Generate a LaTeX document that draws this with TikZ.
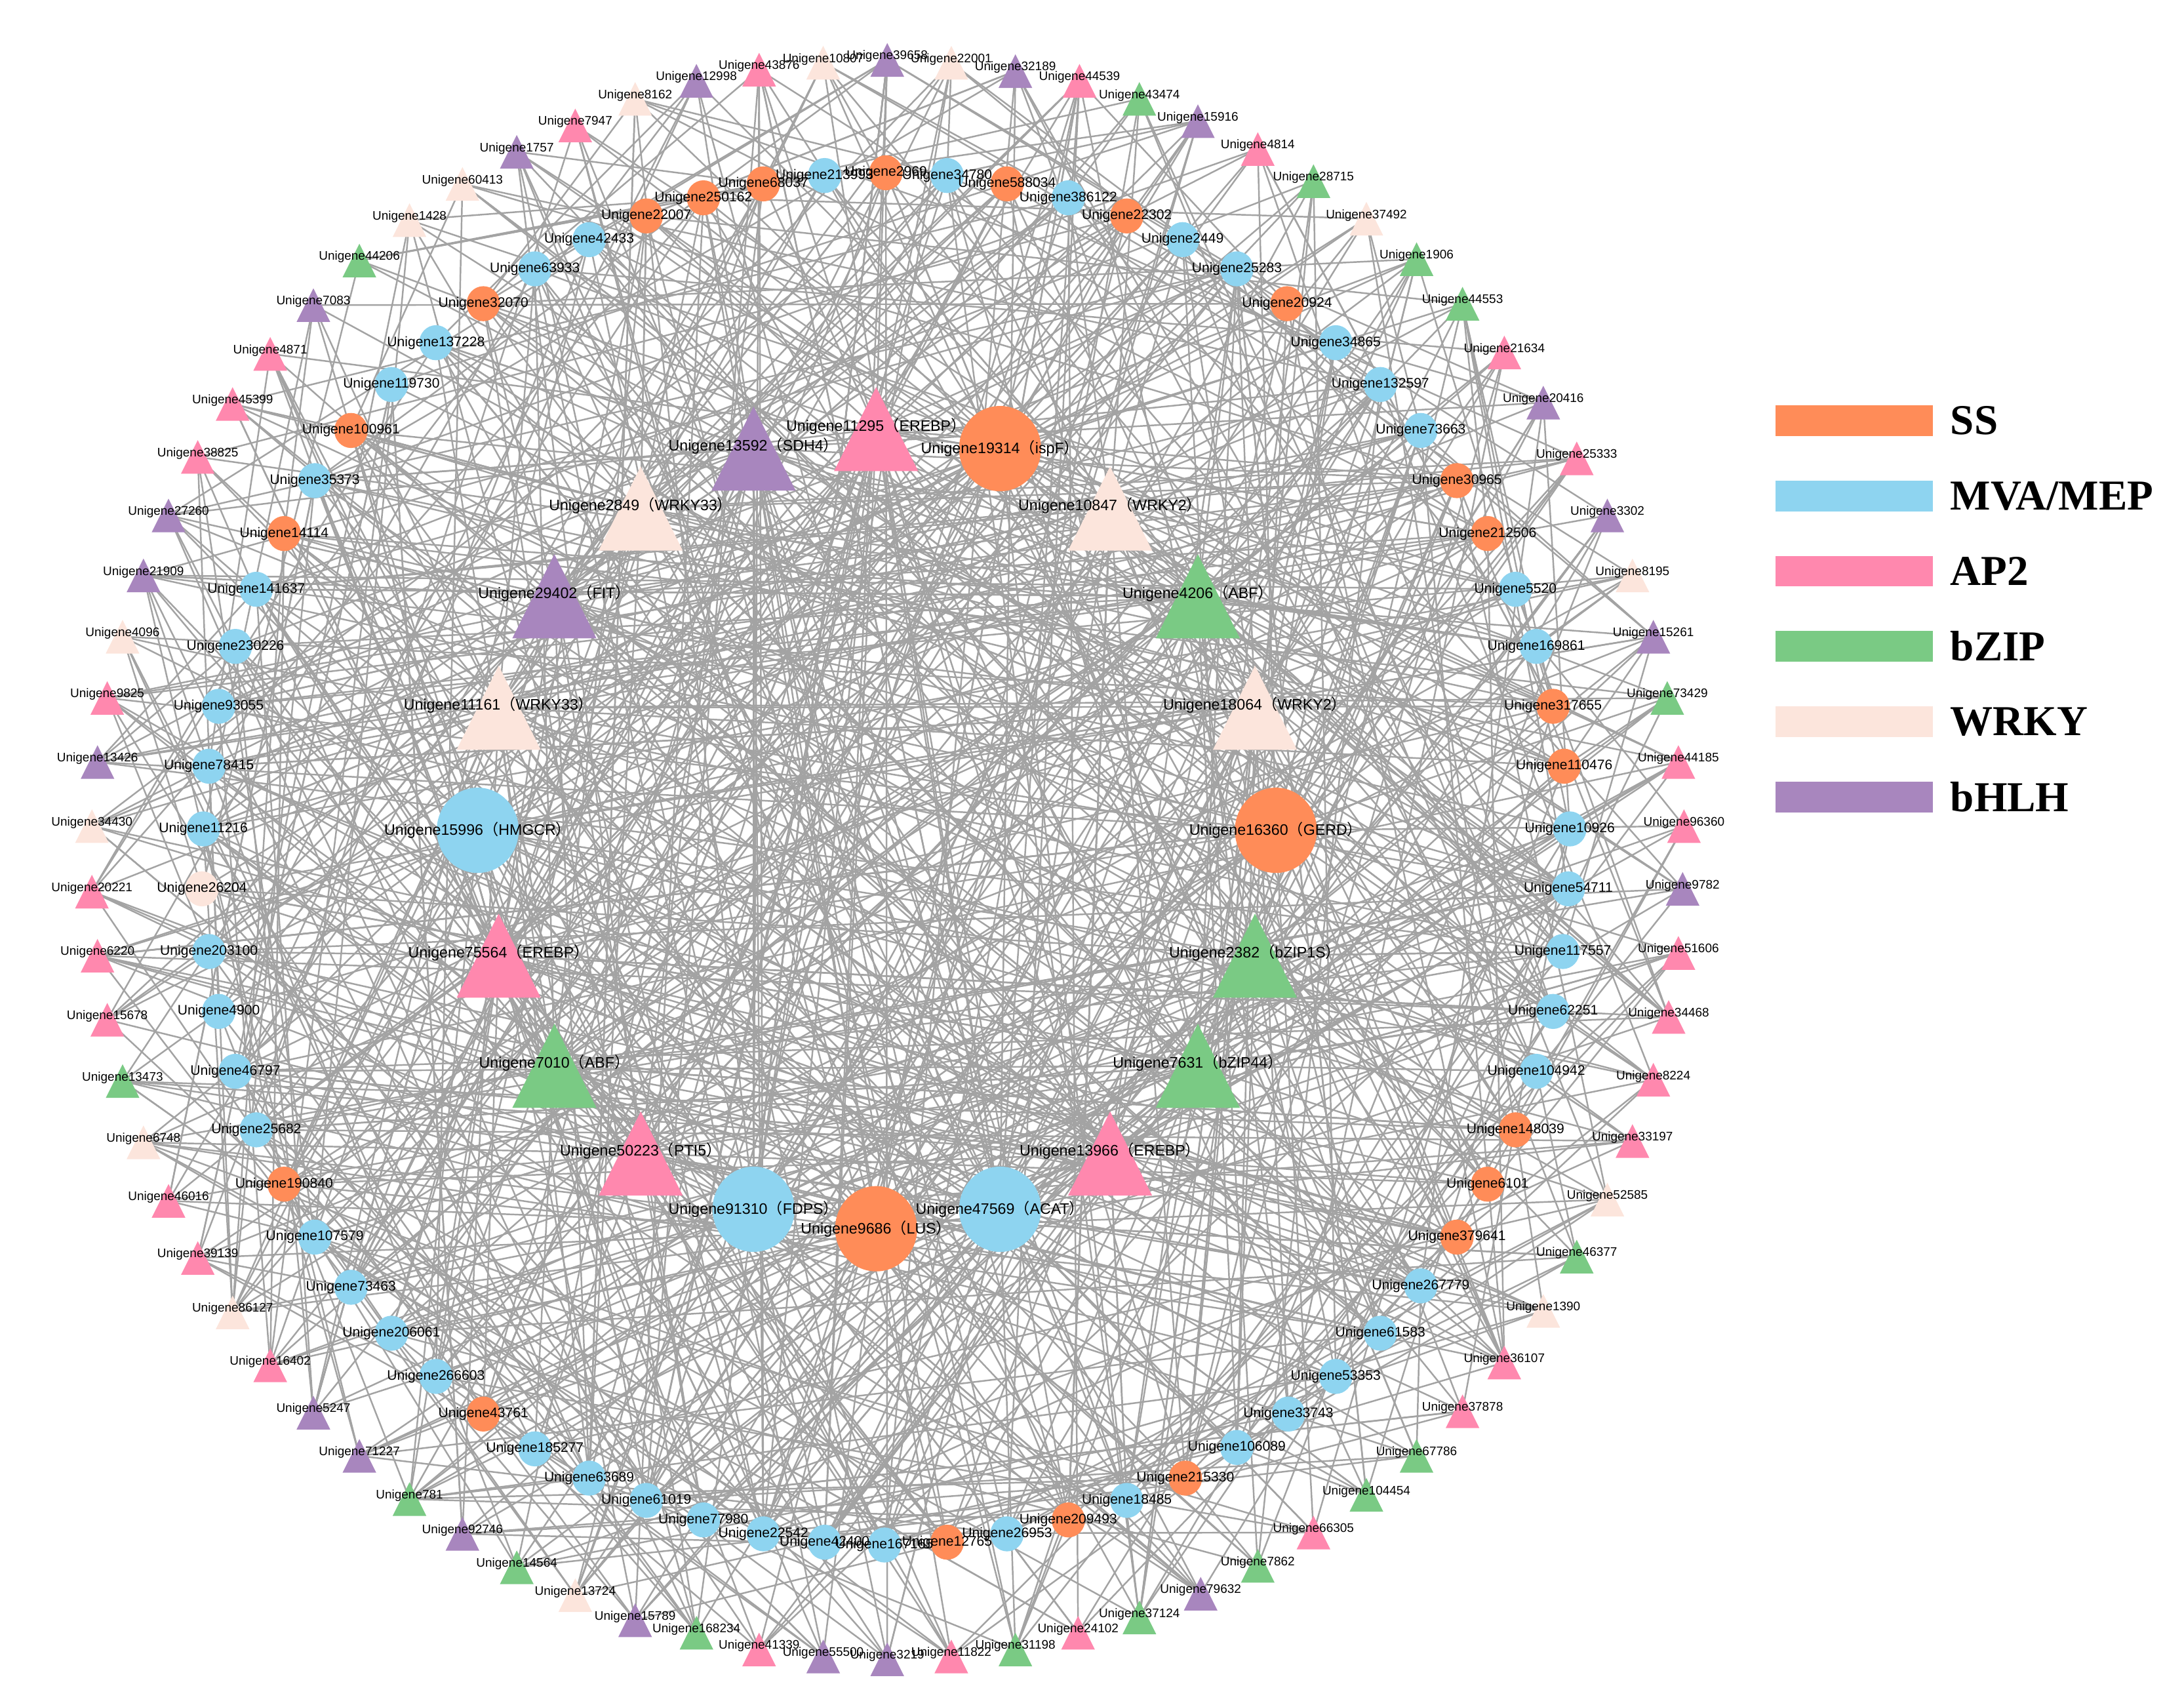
\documentclass[tikz,border=0pt]{standalone}
\usepackage{fontspec}
\setmainfont{Liberation Sans}
\newfontfamily\cjk{Noto Sans CJK SC}
\newfontfamily\legfont{Liberation Serif}
\usetikzlibrary{shapes.geometric}
\definecolor{cP}{RGB}{255,136,174}
\definecolor{cG}{RGB}{122,202,132}
\definecolor{cW}{RGB}{252,229,220}
\definecolor{cB}{RGB}{168,134,190}
\definecolor{cO}{RGB}{255,140,88}
\definecolor{cL}{RGB}{142,212,240}
\definecolor{edgegray}{RGB}{163,163,163}
\pgfdeclarelayer{edges}\pgfdeclarelayer{labels}\pgfsetlayers{edges,main,labels}
\def\outerlist{456/71/cW/Unigene8162,500/58/cB/Unigene12998,545/50/cP/Unigene43876,591/45/cW/Unigene10807,637/43/cB/Unigene39658,683/45/cW/Unigene22001,729/51/cB/Unigene32189,775/58/cP/Unigene44539,818/71/cG/Unigene43474,860/87/cB/Unigene15916,903/107/cP/Unigene4814,943/130/cG/Unigene28715,981/157/cW/Unigene37492,1017/186/cG/Unigene1906,1050/218/cG/Unigene44553,1080/253/cP/Unigene21634,1108/289/cB/Unigene20416,1132/329/cP/Unigene25333,1154/370/cB/Unigene3302,1172/413/cW/Unigene8195,1187/457/cB/Unigene15261,1197/501/cG/Unigene73429,1205/547/cP/Unigene44185,1209/593/cP/Unigene96360,1208/638/cB/Unigene9782,1205/684/cP/Unigene51606,1198/730/cP/Unigene34468,1187/775/cP/Unigene8224,1172/819/cP/Unigene33197,1154/861/cW/Unigene52585,1132/902/cG/Unigene46377,1108/941/cW/Unigene1390,1080/978/cP/Unigene36107,1050/1013/cP/Unigene37878,1017/1045/cG/Unigene67786,981/1073/cG/Unigene104454,943/1100/cP/Unigene66305,903/1124/cG/Unigene7862,862/1144/cB/Unigene79632,818/1161/cG/Unigene37124,774/1172/cP/Unigene24102,729/1184/cG/Unigene31198,683/1189/cP/Unigene11822,637/1191/cB/Unigene3219,591/1189/cB/Unigene55500,545/1184/cP/Unigene41339,500/1172/cG/Unigene168234,456/1163/cB/Unigene15789,413/1145/cW/Unigene13724,371/1125/cG/Unigene14564,332/1101/cB/Unigene92746,294/1076/cG/Unigene781,258/1045/cB/Unigene71227,225/1014/cB/Unigene5247,194/980/cP/Unigene16402,167/942/cW/Unigene86127,142/903/cP/Unigene39139,121/862/cP/Unigene46016,103/820/cW/Unigene6748,88/776/cG/Unigene13473,77/732/cP/Unigene15678,70/686/cP/Unigene6220,66/640/cP/Unigene20221,66/593/cW/Unigene34430,70/547/cB/Unigene13426,77/501/cP/Unigene9825,88/457/cW/Unigene4096,103/413/cB/Unigene21909,121/370/cB/Unigene27260,142/328/cP/Unigene38825,167/290/cP/Unigene45399,194/254/cP/Unigene4871,225/219/cB/Unigene7083,258/187/cG/Unigene44206,294/158/cW/Unigene1428,332/132/cW/Unigene60413,371/109/cB/Unigene1757,413/90/cP/Unigene7947}
\def\circlelist{464/155/cO/Unigene22007,505/142/cO/Unigene250162,548/132/cO/Unigene68037,592/126/cL/Unigene213993,636/124/cO/Unigene2969,680/126/cL/Unigene34780,723/132/cO/Unigene588034,767/142/cL/Unigene386122,809/155/cO/Unigene22302,849/172/cL/Unigene2449,888/193/cL/Unigene25283,924/218/cO/Unigene20924,959/246/cL/Unigene34865,991/276/cL/Unigene132597,1020/309/cL/Unigene73663,1046/345/cO/Unigene30965,1068/383/cO/Unigene212506,1088/423/cL/Unigene5520,1103/464/cL/Unigene169861,1115/507/cO/Unigene317655,1123/550/cO/Unigene110476,1127/595/cL/Unigene10926,1126/638/cL/Unigene54711,1122/683/cL/Unigene117557,1115/726/cL/Unigene62251,1103/769/cL/Unigene104942,1088/811/cO/Unigene148039,1068/850/cO/Unigene6101,1046/888/cO/Unigene379641,1020/923/cL/Unigene267779,991/957/cL/Unigene61583,959/988/cL/Unigene53353,925/1015/cL/Unigene33743,888/1039/cL/Unigene106089,851/1061/cO/Unigene215330,809/1077/cL/Unigene18485,767/1091/cO/Unigene209493,723/1101/cL/Unigene26953,680/1107/cO/Unigene12765,635/1109/cL/Unigene167165,592/1107/cL/Unigene42400,548/1101/cL/Unigene22542,505/1091/cL/Unigene77980,464/1077/cL/Unigene61019,423/1061/cL/Unigene63689,384/1040/cL/Unigene185277,347/1015/cO/Unigene43761,313/988/cL/Unigene266603,281/957/cL/Unigene206061,252/924/cL/Unigene73463,226/888/cL/Unigene107579,204/850/cO/Unigene190840,184/811/cL/Unigene25682,169/769/cL/Unigene46797,157/726/cL/Unigene4900,150/683/cL/Unigene203100,145/638/cW/Unigene26204,146/595/cL/Unigene11216,150/550/cL/Unigene78415,157/507/cL/Unigene93055,169/464/cL/Unigene230226,184/423/cL/Unigene141637,204/383/cO/Unigene14114,226/345/cL/Unigene35373,252/309/cO/Unigene100961,281/276/cL/Unigene119730,313/246/cL/Unigene137228,347/218/cO/Unigene32070,384/193/cL/Unigene63933,423/172/cL/Unigene42433}
\def\bigtrilist{541/322/cB/13592/SDH4,629/308/cP/11295/EREBP,460/365/cW/2849/WRKY33,797/365/cW/10847/WRKY2,398/428/cB/29402/FIT,860/428/cG/4206/ABF,358/508/cW/11161/WRKY33,901/508/cW/18064/WRKY2,358/686/cP/75564/EREBP,901/686/cG/2382/bZIP1S,398/765/cG/7010/ABF,860/765/cG/7631/bZIP44,460/828/cP/50223/PTI5,797/828/cP/13966/EREBP}
\def\bigcirclist{718/322/cO/19314/ispF,343/596/cL/15996/HMGCR,916/596/cO/16360/GERD,541/868/cL/91310/FDPS,629/882/cO/9686/LUS,718/868/cL/47569/ACAT}
\begin{document}
\begin{tikzpicture}[x=0.021244cm, y=-0.021244cm,
  trinode/.style 2 args={rectangle, inner sep=0pt, outer sep=0pt, minimum width=#1, minimum height=#1,
    append after command={\pgfextra{\fill[#2] (\tikzlastnode.north) -- (\tikzlastnode.south east) -- (\tikzlastnode.south west) -- cycle;}}},
  smalltri/.style={trinode={14.6pt}{#1}},
  bigtri/.style={trinode={36.5pt}{#1}},
  smallcirc/.style={ellipse, inner sep=0pt, outer sep=0pt, minimum width=14.5pt, minimum height=15.2pt, fill=#1},
  bigcirc/.style={ellipse, inner sep=0pt, outer sep=0pt, minimum width=35.6pt, minimum height=37pt, fill=#1},
  linkline/.style={draw=edgegray, line width=0.7pt},
  lblouter/.style={font=\fontsize{5.4}{6}\selectfont, inner sep=0pt, text=black},
  lblcirc/.style={font=\fontsize{6}{7}\selectfont, inner sep=0pt, text=black},
  lblbig/.style={font=\fontsize{6.6}{8}\selectfont, inner sep=0pt, text=black},
  legbox/.style={rectangle, inner sep=0pt, minimum width=68.3pt, minimum height=13.3pt, fill=#1},
  legtext/.style={anchor=west, inner sep=0pt, font=\legfont\bfseries\fontsize{18.5}{20}\selectfont}
]
\useasboundingbox (0,0) rectangle (1568,1225);
% nodes
\foreach \x/\y/\c/\l [count=\i] in \outerlist {\node[smalltri=\c] (t\i) at (\x,\y) {};}
\foreach \x/\y/\c/\l [count=\i] in \circlelist {\node[smallcirc=\c] (c\i) at (\x,\y) {};}
\foreach \x/\y/\c/\n/\g [count=\i] in \bigtrilist {\node[bigtri=\c] (bt\i) at (\x,\y) {};}
\foreach \x/\y/\c/\n/\g [count=\i] in \bigcirclist {\node[bigcirc=\c] (bc\i) at (\x,\y) {};}
% labels
\begin{pgfonlayer}{labels}
\foreach \x/\y/\c/\l [count=\i] in \outerlist {\node[lblouter] (lt\i) at ([yshift=1.5pt]t\i.center) {\l};}
\foreach \x/\y/\c/\l [count=\i] in \circlelist {\node[lblcirc] (lc\i) at (c\i.center) {\l};}
\foreach \x/\y/\c/\n/\g [count=\i] in \bigtrilist {\node[lblbig] (lbt\i) at ([yshift=1.2pt]bt\i.center) {Unigene\n{\cjk （}\g{\cjk ）}};}
\foreach \x/\y/\c/\n/\g [count=\i] in \bigcirclist {\node[lblbig] (lbc\i) at (bc\i.center) {Unigene\n{\cjk （}\g{\cjk ）}};}
\end{pgfonlayer}
% legend
\foreach \c/\t [count=\i] in {cO/SS, cL/{MVA/MEP}, cP/AP2, cG/bZIP, cW/WRKY, cB/bHLH}{
  \pgfmathsetmacro{\ly}{302+54*(\i-1)}
  \node[legbox=\c] (lgb\i) at (1331,\ly) {};
  \node[legtext] (lgt\i) at (1400,\ly) {\t};
}
% edges
\pgfmathsetseed{2024}
\begin{pgfonlayer}{edges}
\foreach \i in {1,...,78}{
  \foreach \k in {1,...,6}{
    \pgfmathrandominteger{\rr}{1}{76}
    \ifnum\rr>70 \pgfmathtruncatemacro{\sv}{\rr-70}\edef\tgt{bc\sv}\else\edef\tgt{c\rr}\fi
    \draw[linkline] (t\i.center) -- (\tgt.center);
  }
}
\foreach \i in {1,...,14}{
  \foreach \k in {1,...,28}{
    \pgfmathrandominteger{\rr}{1}{76}
    \ifnum\rr>70 \pgfmathtruncatemacro{\sv}{\rr-70}\edef\tgt{bc\sv}\else\edef\tgt{c\rr}\fi
    \draw[linkline] (bt\i.center) -- (\tgt.center);
  }
  \foreach \k in {1,...,4}{
    \pgfmathrandominteger{\rr}{1}{78}
    \draw[linkline] (bt\i.center) -- (t\rr.center);
  }
}
\foreach \i in {1,...,6}{
  \foreach \k in {1,...,20}{
    \pgfmathrandominteger{\rr}{1}{78}
    \draw[linkline] (bc\i.center) -- (t\rr.center);
  }
}
\end{pgfonlayer}
\end{tikzpicture}
\end{document}
